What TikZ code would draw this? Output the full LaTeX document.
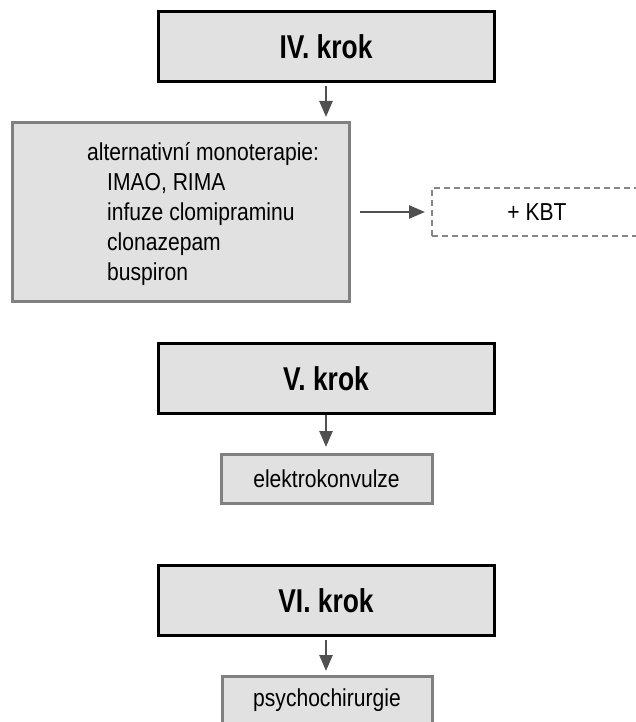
\documentclass[tikz,border=0pt]{standalone}
\usepackage{fontspec}
\setmainfont[FakeStretch=0.86]{Liberation Sans}
\newfontfamily\condbold[FakeStretch=0.8,UprightFont={* Bold}]{Liberation Sans}
\usetikzlibrary{arrows.meta}
\definecolor{boxfill}{HTML}{E1E1E1}
\definecolor{boxline}{HTML}{808080}
\definecolor{arrowcol}{HTML}{505050}
\definecolor{dashcol}{HTML}{858585}
\begin{document}
\begin{tikzpicture}[x=1pt,y=-1pt,
  stepbox/.style={draw=black, line width=3pt, fill=boxfill, minimum width=336pt, minimum height=70pt, inner sep=0pt, outer sep=0pt, font=\condbold\fontsize{33}{36}\selectfont},
  subbox/.style={draw=boxline, line width=3pt, fill=boxfill, inner sep=0pt, outer sep=0pt, font=\fontsize{24.5}{30}\selectfont},
  kbtbox/.style={draw=dashcol, line width=2.6pt, dash pattern=on 6pt off 4pt, fill=white, inner sep=0pt, outer sep=0pt, font=\fontsize{24.5}{30}\selectfont},
  arr/.style={draw=arrowcol, line width=2.5pt, -{Triangle[length=16pt,width=13pt]}}
]
\useasboundingbox (0,0) rectangle (636,722);
\clip (0,0) rectangle (636,722);

\node[stepbox] (s4) at (326,47) {IV. krok};
\node[subbox, minimum width=337pt, minimum height=178pt] (alt) at (180.5,212) {};
\node[anchor=north west, align=left, inner sep=0pt, font=\fontsize{24.5}{30}\selectfont] (alttext) at (87,142)
  {alternativní monoterapie:\\
   \hspace*{20pt}IMAO, RIMA\\
   \hspace*{20pt}infuze clomipraminu\\
   \hspace*{20pt}clonazepam\\
   \hspace*{20pt}buspiron};
\node[kbtbox, minimum width=210pt, minimum height=48pt] (kbt) at (537,212) {+ KBT};

\node[stepbox] (s5) at (326,378.5) {V. krok};
\node[subbox, minimum width=211pt, minimum height=49pt] (el) at (326.5,478.5) {elektrokonvulze};

\node[stepbox] (s6) at (326,600.5) {VI. krok};
\node[subbox, minimum width=210pt, minimum height=49pt] (ps) at (327,700.5) {psychochirurgie};

\draw[arr, shorten <=4pt, shorten >=6pt] (s4.south) -- (s4.south |- alt.north);
\draw[arr, shorten <=11pt, shorten >=7pt] (alt) -- (kbt);
\draw[arr, shorten <=1pt, shorten >=7pt] (s5.south) -- (s5.south |- el.north);
\draw[arr, shorten <=4pt, shorten >=5pt] (s6.south) -- (s6.south |- ps.north);
\end{tikzpicture}
\end{document}
